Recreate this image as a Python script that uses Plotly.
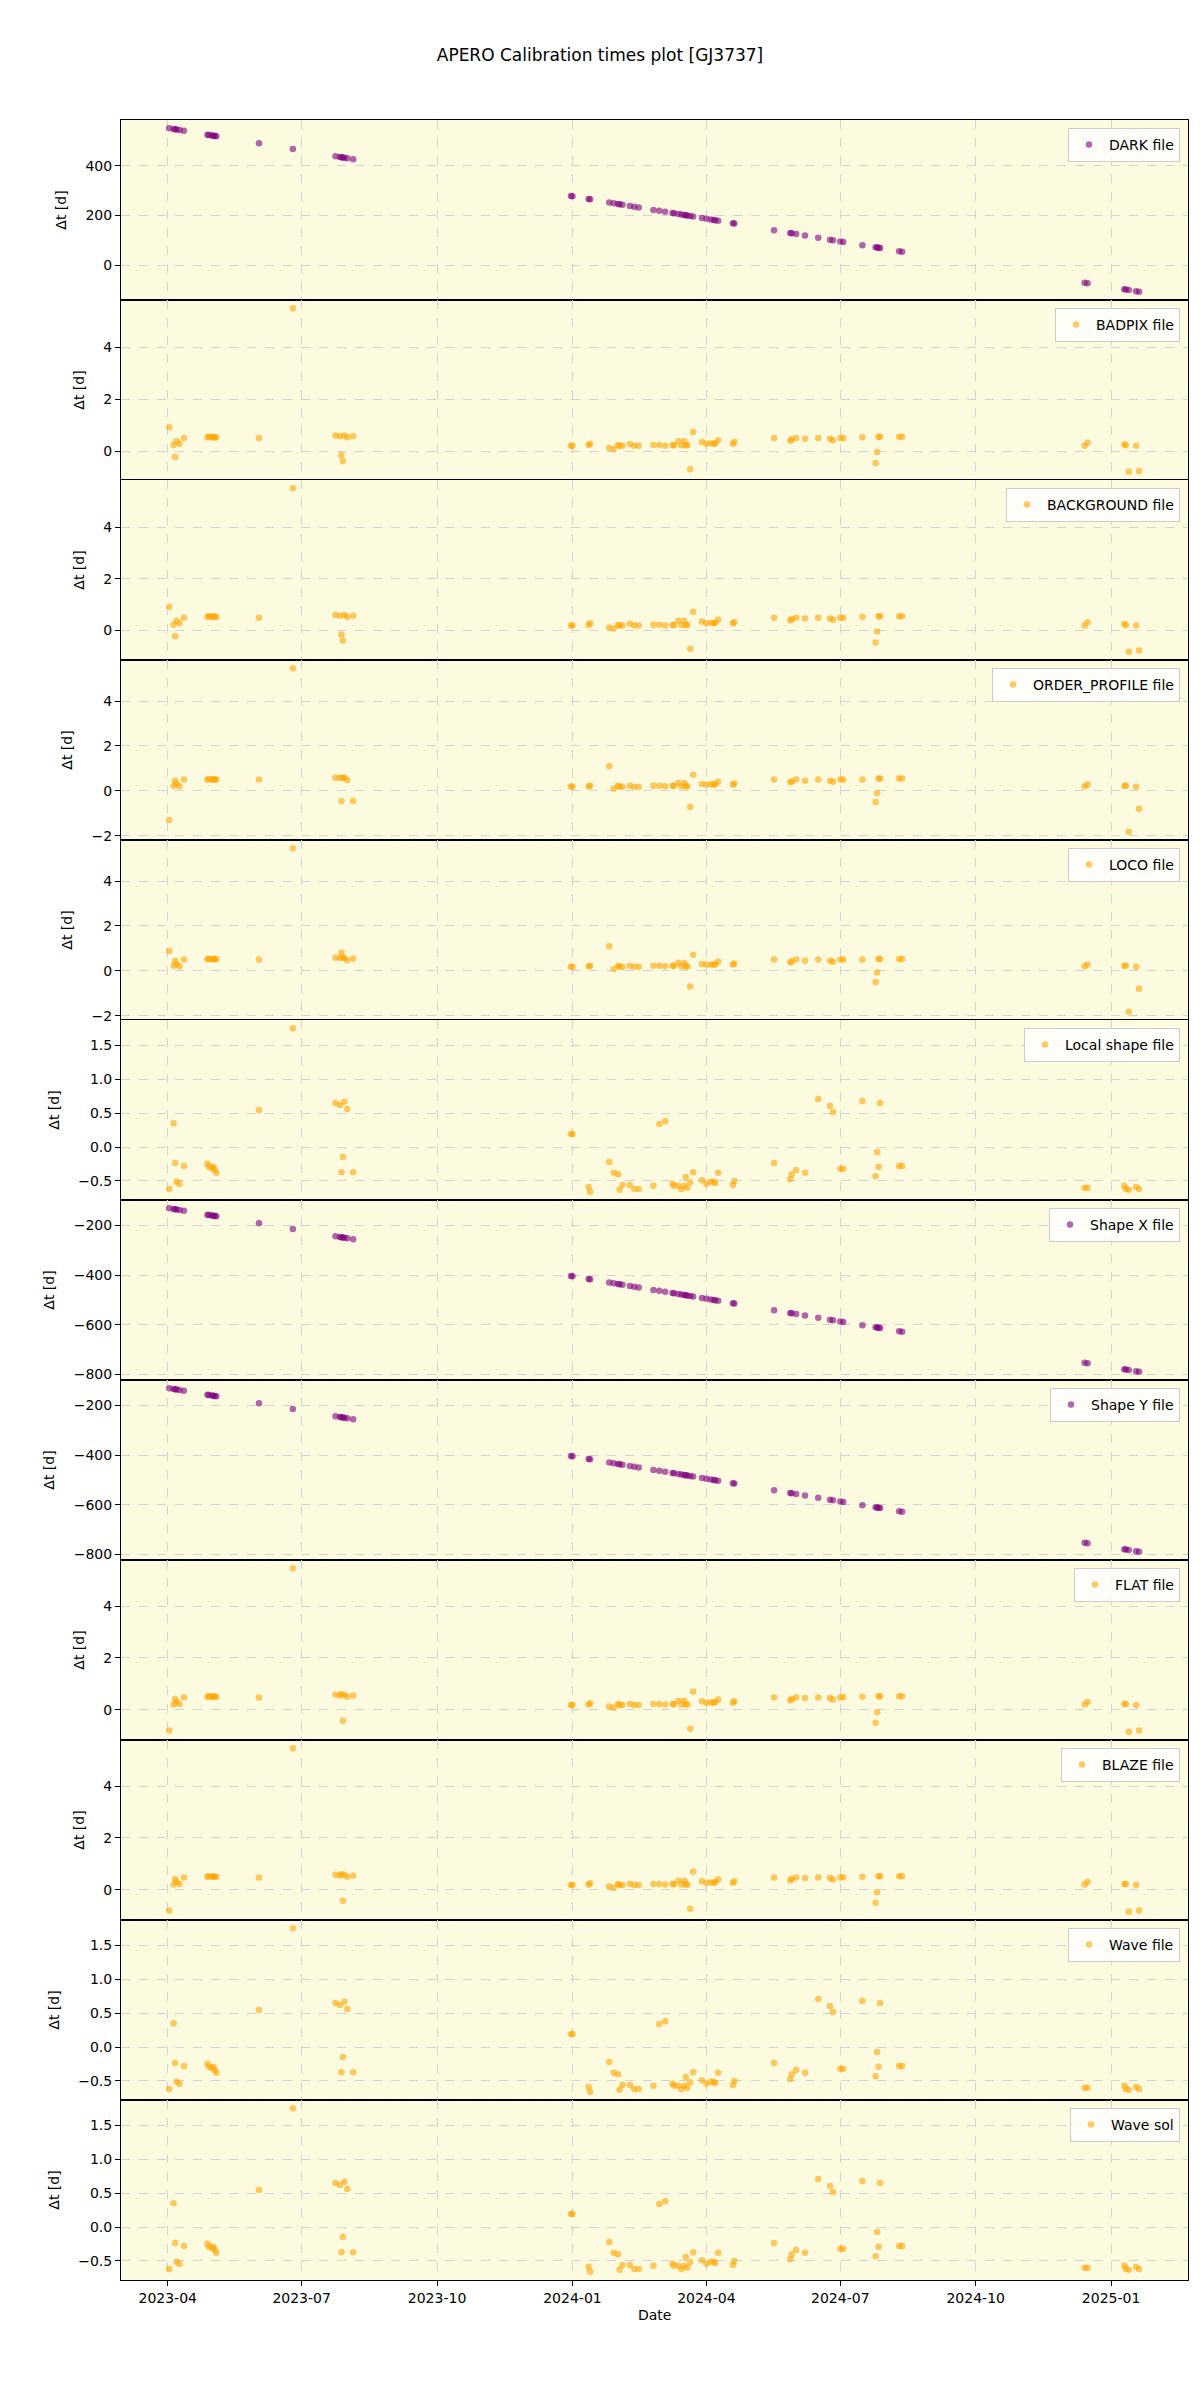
import plotly.graph_objects as go
from plotly.subplots import make_subplots

# ---- data ----
dates = [
    "2023-04-02", "2023-04-05", "2023-04-06", "2023-04-07", "2023-04-09", "2023-04-12",
    "2023-04-28", "2023-04-29", "2023-05-01", "2023-05-02", "2023-05-03", "2023-05-04",
    "2023-06-02", "2023-06-25",
    "2023-07-24", "2023-07-27", "2023-07-28", "2023-07-29", "2023-07-30", "2023-08-01", "2023-08-05",
    "2023-12-31", "2024-01-01", "2024-01-12", "2024-01-13",
    "2024-01-26", "2024-01-29", "2024-02-01", "2024-02-02", "2024-02-04",
    "2024-02-09", "2024-02-12", "2024-02-15",
    "2024-02-25", "2024-02-29", "2024-03-04", "2024-03-09",
    "2024-03-10", "2024-03-13", "2024-03-15", "2024-03-17", "2024-03-18", "2024-03-19", "2024-03-21", "2024-03-23",
    "2024-03-29", "2024-04-01", "2024-04-04", "2024-04-06", "2024-04-07", "2024-04-09", "2024-04-19", "2024-04-20",
    "2024-05-17", "2024-05-28", "2024-05-29", "2024-06-01", "2024-06-07",
    "2024-06-16", "2024-06-24", "2024-06-26", "2024-07-01", "2024-07-03",
    "2024-07-16", "2024-07-25", "2024-07-26", "2024-07-27", "2024-07-28", "2024-08-10", "2024-08-12",
    "2024-12-14", "2024-12-16", "2025-01-10", "2025-01-11", "2025-01-13", "2025-01-18", "2025-01-20",
]

dark_dt = [
    551, 548, 547, 546, 544, 541,
    525, 524, 522, 521, 520, 519,
    490, 467,
    438, 435, 434, 433, 432, 430, 426,
    278, 277, 266, 265,
    252, 249, 246, 245, 243,
    238, 235, 232,
    222, 218, 214, 209,
    208, 205, 203, 201, 200, 199, 197, 195,
    189, 186, 183, 181, 180, 178, 168, 167,
    140, 129, 128, 125, 119,
    110, 102, 100, 95, 93,
    80, 71, 70, 69, 68, 55, 53,
    -71, -73, -98, -99, -101, -106, -108,
]

badpix_dt = [
    0.92, 0.23, -0.23, 0.38, 0.28, 0.50,
    0.53, 0.55, 0.52, 0.55, 0.53, 0.52,
    0.50, 5.50,
    0.60, 0.57, -0.15, -0.38, 0.60, 0.53, 0.57,
    0.20, 0.20, 0.23, 0.28,
    0.12, 0.08, 0.22, 0.20, 0.20,
    0.27, 0.20, 0.20,
    0.23, 0.23, 0.20, 0.22,
    0.22, 0.38, 0.22, 0.38, 0.22, 0.22, -0.70, 0.73,
    0.35, 0.28, 0.30, 0.28, 0.30, 0.42, 0.28, 0.35,
    0.50, 0.40, 0.45, 0.50, 0.47,
    0.50, 0.47, 0.42, 0.50, 0.50,
    0.53, -0.46, -0.04, 0.55, 0.55, 0.55, 0.55,
    0.20, 0.32, 0.25, 0.22, -0.80, 0.20, -0.77,
]

background_dt = [
    0.92, 0.23, -0.22, 0.38, 0.28, 0.50,
    0.53, 0.55, 0.52, 0.55, 0.53, 0.52,
    0.50, 5.50,
    0.60, 0.57, -0.15, -0.38, 0.60, 0.53, 0.57,
    0.20, 0.20, 0.22, 0.28,
    0.12, 0.08, 0.22, 0.20, 0.20,
    0.26, 0.20, 0.20,
    0.23, 0.23, 0.20, 0.22,
    0.22, 0.38, 0.22, 0.38, 0.22, 0.22, -0.70, 0.73,
    0.35, 0.28, 0.30, 0.28, 0.30, 0.42, 0.28, 0.33,
    0.50, 0.40, 0.45, 0.50, 0.47,
    0.50, 0.47, 0.42, 0.50, 0.50,
    0.53, -0.46, -0.04, 0.55, 0.55, 0.55, 0.55,
    0.20, 0.32, 0.25, 0.22, -0.82, 0.20, -0.77,
]

order_profile_dt = [
    -1.30, 0.23, 0.45, 0.30, 0.20, 0.50,
    0.50, 0.52, 0.50, 0.52, 0.50, 0.50,
    0.50, 5.47,
    0.58, 0.58, -0.45, 0.58, 0.58, 0.48, -0.45,
    0.20, 0.18, 0.20, 0.22,
    1.10, 0.10, 0.22, 0.18, 0.18,
    0.22, 0.18, 0.18,
    0.22, 0.22, 0.20, 0.22,
    0.22, 0.35, 0.20, 0.35, 0.20, 0.20, -0.72, 0.72,
    0.30, 0.28, 0.28, 0.30, 0.28, 0.40, 0.28, 0.32,
    0.50, 0.38, 0.42, 0.50, 0.45,
    0.50, 0.45, 0.40, 0.50, 0.50,
    0.50, -0.50, -0.10, 0.55, 0.55, 0.55, 0.55,
    0.20, 0.28, 0.22, 0.22, -1.83, 0.18, -0.80,
]

loco_dt = [
    0.88, 0.22, 0.45, 0.30, 0.20, 0.50,
    0.53, 0.53, 0.52, 0.53, 0.53, 0.52,
    0.50, 5.47,
    0.58, 0.58, 0.80, 0.58, 0.58, 0.47, 0.55,
    0.18, 0.18, 0.20, 0.22,
    1.10, 0.08, 0.22, 0.18, 0.18,
    0.22, 0.18, 0.18,
    0.22, 0.22, 0.20, 0.22,
    0.22, 0.35, 0.20, 0.35, 0.18, 0.20, -0.70, 0.72,
    0.30, 0.28, 0.28, 0.28, 0.28, 0.40, 0.28, 0.32,
    0.50, 0.38, 0.42, 0.50, 0.45,
    0.50, 0.45, 0.40, 0.50, 0.50,
    0.50, -0.50, -0.08, 0.53, 0.53, 0.53, 0.53,
    0.20, 0.28, 0.22, 0.22, -1.83, 0.18, -0.80,
]

local_shape_dt = [
    -0.62, 0.35, -0.235, -0.51, -0.54, -0.28,
    -0.245, -0.29, -0.31, -0.29, -0.34, -0.38,
    0.544, 1.75,
    0.647, 0.618, -0.37, -0.147, 0.667, 0.559, -0.37,
    0.19, 0.19, -0.59, -0.66,
    -0.22, -0.38, -0.40, -0.63, -0.56,
    -0.56, -0.62, -0.62,
    -0.57, 0.34, 0.38, -0.54,
    -0.57, -0.57, -0.62, -0.57, -0.44, -0.60, -0.52, -0.37,
    -0.49, -0.54, -0.51, -0.51, -0.53, -0.38, -0.56, -0.50,
    -0.235, -0.47, -0.40, -0.34, -0.38,
    0.706, 0.603, 0.515, -0.32, -0.32,
    0.676, -0.43, -0.074, -0.29, 0.647, -0.28, -0.28,
    -0.60, -0.60, -0.57, -0.62, -0.63, -0.59, -0.62,
]

shape_x_dt = [
    -130, -133, -134, -135, -137, -140,
    -156, -157, -159, -160, -161, -162,
    -191, -214,
    -243, -246, -247, -248, -249, -251, -255,
    -403, -404, -415, -416,
    -429, -432, -435, -436, -438,
    -443, -446, -449,
    -459, -463, -467, -472,
    -473, -476, -478, -480, -481, -482, -484, -486,
    -492, -495, -498, -500, -501, -503, -513, -514,
    -541, -552, -553, -556, -562,
    -571, -579, -581, -586, -588,
    -601, -610, -611, -612, -613, -626, -628,
    -752, -754, -779, -780, -782, -787, -789,
]

shape_y_dt = [
    -130, -133, -134, -135, -137, -140,
    -156, -157, -159, -160, -161, -162,
    -191, -214,
    -243, -246, -247, -248, -249, -251, -255,
    -403, -404, -415, -416,
    -429, -432, -435, -436, -438,
    -443, -446, -449,
    -459, -463, -467, -472,
    -473, -476, -478, -480, -481, -482, -484, -486,
    -492, -495, -498, -500, -501, -503, -513, -514,
    -541, -552, -553, -556, -562,
    -571, -579, -581, -586, -588,
    -601, -610, -611, -612, -613, -626, -628,
    -752, -754, -779, -780, -782, -787, -789,
]

flat_dt = [
    -0.80, 0.20, 0.42, 0.30, 0.22, 0.47,
    0.50, 0.52, 0.50, 0.52, 0.50, 0.50,
    0.47, 5.46,
    0.58, 0.55, 0.60, -0.42, 0.58, 0.50, 0.55,
    0.18, 0.18, 0.20, 0.25,
    0.13, 0.08, 0.22, 0.18, 0.18,
    0.23, 0.18, 0.18,
    0.22, 0.22, 0.20, 0.22,
    0.22, 0.35, 0.20, 0.35, 0.20, 0.20, -0.73, 0.70,
    0.33, 0.27, 0.28, 0.27, 0.30, 0.40, 0.27, 0.33,
    0.47, 0.37, 0.42, 0.47, 0.45,
    0.47, 0.45, 0.40, 0.47, 0.48,
    0.50, -0.50, -0.10, 0.52, 0.52, 0.52, 0.52,
    0.20, 0.30, 0.22, 0.22, -0.85, 0.18, -0.80,
]

blaze_dt = [
    -0.80, 0.20, 0.42, 0.30, 0.22, 0.47,
    0.50, 0.52, 0.50, 0.52, 0.50, 0.50,
    0.47, 5.46,
    0.58, 0.55, 0.60, -0.42, 0.58, 0.50, 0.55,
    0.18, 0.18, 0.20, 0.25,
    0.13, 0.08, 0.22, 0.18, 0.18,
    0.23, 0.18, 0.18,
    0.22, 0.22, 0.20, 0.22,
    0.22, 0.35, 0.20, 0.35, 0.20, 0.20, -0.73, 0.70,
    0.33, 0.27, 0.28, 0.27, 0.30, 0.40, 0.27, 0.33,
    0.47, 0.37, 0.42, 0.47, 0.45,
    0.47, 0.45, 0.40, 0.47, 0.48,
    0.50, -0.50, -0.10, 0.52, 0.52, 0.52, 0.52,
    0.20, 0.30, 0.22, 0.22, -0.85, 0.18, -0.80,
]

wave_file_dt = list(local_shape_dt)
wave_sol_dt = list(local_shape_dt)

labels = ["DARK file", "BADPIX file", "BACKGROUND file", "ORDER_PROFILE file", "LOCO file",
          "Local shape file", "Shape X file", "Shape Y file", "FLAT file", "BLAZE file",
          "Wave file", "Wave sol"]
series = [dark_dt, badpix_dt, background_dt, order_profile_dt, loco_dt, local_shape_dt,
          shape_x_dt, shape_y_dt, flat_dt, blaze_dt, wave_file_dt, wave_sol_dt]
tick_dates = ["2023-04-01", "2023-07-01", "2023-10-01", "2024-01-01",
              "2024-04-01", "2024-07-01", "2024-10-01", "2025-01-01"]
tick_text = ["2023-04", "2023-07", "2023-10", "2024-01", "2024-04", "2024-07", "2024-10", "2025-01"]

# ---- styling ----
PURPLE = "#800080"
ORANGE = "#FFA500"
colors = [PURPLE, ORANGE, ORANGE, ORANGE, ORANGE, ORANGE, PURPLE, PURPLE, ORANGE, ORANGE, ORANGE, ORANGE]
dticks = [200, 2, 2, 2, 2, 0.5, 200, 200, 2, 2, 0.5, 0.5]
fmts = ["", "", "", "", "", ".1f", "", "", "", "", ".1f", ".1f"]

# page body has an 8px margin; the figure is sized so the plot lands where the reference has it
OFF = 8
W, H = 1200 - OFF, 2400 - OFF
ML, MR, MT, MB = 121 - OFF, 12, 120 - OFF, 120
PW, PH = W - ML - MR, H - MT - MB
N = len(series)
FONT = "DejaVu Sans"

fig = make_subplots(rows=N, cols=1, shared_xaxes=True, vertical_spacing=0)

layout_legends = {}
for i in range(N):
    r = i + 1
    leg = "legend" if i == 0 else f"legend{i + 1}"
    vals = series[i]
    fig.add_trace(go.Scatter(
        x=dates, y=vals, mode="markers", name=labels[i],
        marker=dict(color=colors[i], size=6.5, opacity=0.6, line=dict(width=0)),
        legend=leg, showlegend=True,
    ), row=r, col=1)
    lo, hi = min(vals), max(vals)
    pad = 0.05 * (hi - lo)
    fig.update_yaxes(range=[lo - pad, hi + pad], dtick=dticks[i], tickformat=fmts[i],
                     title_text="Δt [d]", title_font=dict(size=14, family=FONT, color="black"),
                     row=r, col=1)
    ytop = 1 - i / N
    layout_legends[leg] = dict(
        x=1 - 8 / PW, y=ytop - 8 / PH, xanchor="right", yanchor="top",
        xref="paper", yref="paper",
        bgcolor="rgba(255,255,255,0.8)", bordercolor="#cccccc", borderwidth=1,
        font=dict(size=14, family=FONT, color="black"),
    )

fig.update_yaxes(
    automargin=False,
    showgrid=True, gridcolor="#d3d3d3", griddash="dash", gridwidth=1,
    zeroline=False, showline=True, mirror=True, linecolor="black", linewidth=1,
    ticks="outside", ticklen=5, tickcolor="black",
    tickfont=dict(size=14, family=FONT, color="black"),
)
fig.update_xaxes(
    automargin=False,
    type="date", range=["2023-02-28 06:00", "2025-02-22 06:00"],
    tickvals=tick_dates, ticktext=tick_text,
    showgrid=True, gridcolor="#d3d3d3", griddash="dash", gridwidth=1,
    zeroline=False, showline=True, mirror=True, linecolor="black", linewidth=1,
    tickfont=dict(size=14, family=FONT, color="black"),
)
fig.update_xaxes(ticks="outside", ticklen=5, tickcolor="black", row=N, col=1)

fig.add_annotation(text="Date", xref="paper", yref="paper", x=0.5, y=-(2315 - 2280) / PH,
                   xanchor="center", yanchor="middle", showarrow=False,
                   font=dict(size=14, family=FONT, color="black"))

fig.update_layout(
    width=W, height=H,
    margin=dict(l=ML, r=MR, t=MT, b=MB, autoexpand=False),
    paper_bgcolor="white", plot_bgcolor="#fcfbe0",
    font=dict(family=FONT, color="black"),
    title=dict(text="APERO Calibration times plot [GJ3737]", x=(600 - OFF) / W, xref="container",
               xanchor="center", y=1 - (55 - OFF) / H, yanchor="middle",
               font=dict(size=17, family=FONT, color="black")),
    **layout_legends,
)

fig.write_html("out.html")
